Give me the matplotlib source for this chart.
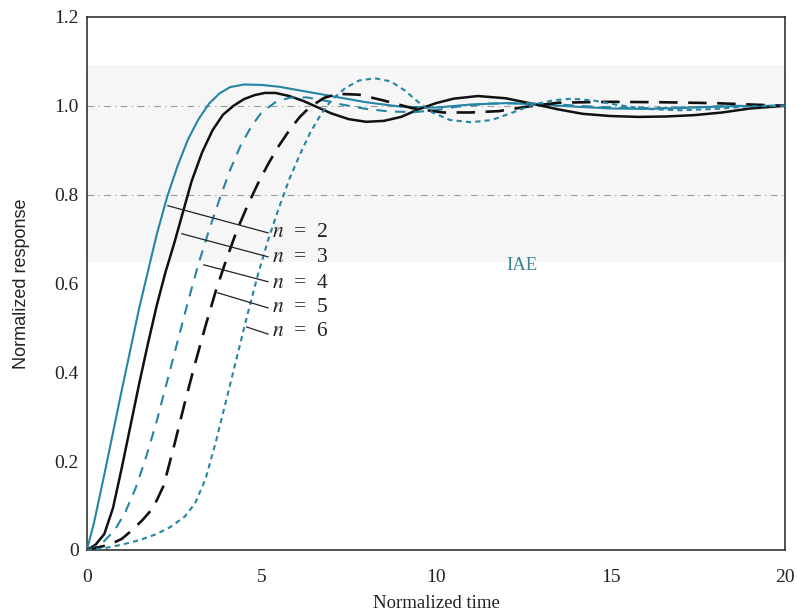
import matplotlib
matplotlib.use("Agg")
import matplotlib.pyplot as plt

plt.rcParams['font.family'] = ['Liberation Serif', 'DejaVu Serif']
plt.rcParams['mathtext.fontset'] = 'stix'

# values (time, normalized response)
t2 = [0, 0.2, 0.5, 1.0, 1.5, 2.0, 2.3, 2.6, 2.9, 3.2, 3.5, 3.8, 4.1, 4.5, 5.0, 5.5, 6.0,
      7.0, 8.0, 9.0, 10, 11, 12, 13, 14, 15, 16, 17, 18, 19, 20]
y2 = [0, 0.06, 0.17, 0.36, 0.545, 0.71, 0.795, 0.865, 0.925, 0.97, 1.005, 1.028, 1.042,
      1.048, 1.047, 1.043, 1.036, 1.022, 1.008, 0.998, 0.996, 1.003, 1.006, 1.003, 0.998,
      0.994, 0.993, 0.995, 0.998, 1.0, 1.0]

t3 = [0, 0.25, 0.5, 0.75, 1.0, 1.25, 1.5, 1.75, 2.0, 2.25, 2.5, 2.75, 3.0, 3.3, 3.6, 3.9,
      4.2, 4.5, 4.8, 5.1, 5.4, 5.8, 6.2, 6.6, 7.0, 7.5, 8.0, 8.5, 9.0, 9.5, 10, 10.5, 11.2,
      12, 12.8, 13.5, 14.2, 15, 15.8, 16.6, 17.4, 18.2, 19, 20]
y3 = [0, 0.012, 0.036, 0.095, 0.185, 0.28, 0.375, 0.465, 0.55, 0.625, 0.69, 0.76, 0.83,
      0.895, 0.945, 0.98, 1.0, 1.015, 1.024, 1.029, 1.029, 1.022, 1.011, 0.997, 0.983, 0.970,
      0.964, 0.966, 0.975, 0.992, 1.006, 1.016, 1.022, 1.017, 1.004, 0.992, 0.982, 0.977,
      0.975, 0.976, 0.979, 0.985, 0.994, 1.0]

t4 = [0, 0.4, 0.8, 1.1, 1.4, 1.7, 2.0, 2.3, 2.6, 2.9, 3.2, 3.5, 3.8, 4.1, 4.4, 4.7, 5.0,
      5.4, 5.8, 6.3, 6.8, 7.3, 8.0, 8.7, 9.4, 10.0, 10.6, 11.5, 12.5, 13.5, 14.5, 15.5, 16.5,
      17.5, 18.5, 20]
y4 = [0, 0.012, 0.045, 0.085, 0.14, 0.21, 0.29, 0.38, 0.47, 0.56, 0.645, 0.72, 0.79, 0.855,
      0.91, 0.952, 0.985, 1.008, 1.018, 1.019, 1.012, 1.003, 0.993, 0.987, 0.986, 0.99, 0.998,
      1.005, 1.006, 1.003, 0.998, 0.995, 0.995, 0.997, 1.0, 1.0]

t5 = [0, 0.65, 1.0, 1.3, 1.6, 1.9, 2.2, 2.5, 2.8, 3.1, 3.4, 3.7, 4.0, 4.3, 4.6, 4.9, 5.2,
      5.5, 5.8, 6.1, 6.4, 6.8, 7.2, 7.8, 8.5, 9.3, 10.2, 11.0, 11.8, 12.6, 13.5, 15.0, 16.5,
      18.0, 19.0, 20]
y5 = [0, 0.012, 0.025, 0.045, 0.068, 0.095, 0.145, 0.235, 0.33, 0.42, 0.505, 0.585, 0.655,
      0.72, 0.775, 0.825, 0.87, 0.91, 0.945, 0.975, 0.998, 1.018, 1.027, 1.025, 1.012, 0.995,
      0.985, 0.985, 0.988, 0.998, 1.007, 1.009, 1.008, 1.006, 1.003, 1.0]

t6 = [0, 0.5, 1.0, 1.5, 2.0, 2.4, 2.8, 3.1, 3.4, 3.7, 4.0, 4.3, 4.6, 4.9, 5.2, 5.5, 5.8,
      6.1, 6.4, 6.7, 7.0, 7.4, 7.8, 8.25, 8.7, 9.1, 9.5, 9.9, 10.4, 11.0, 11.6, 12.2, 12.8,
      13.4, 13.9, 14.5, 15.2, 16.0, 17.0, 18.0, 19.0, 20.0]
y6 = [0, 0.004, 0.012, 0.022, 0.036, 0.052, 0.075, 0.105, 0.16, 0.245, 0.34, 0.435, 0.53,
      0.62, 0.7, 0.77, 0.835, 0.89, 0.94, 0.98, 1.012, 1.04, 1.057, 1.062, 1.055, 1.035,
      1.008, 0.985, 0.968, 0.963, 0.968, 0.985, 1.003, 1.013, 1.016, 1.012, 1.002, 0.993,
      0.99, 0.993, 0.999, 1.0]

labels = ['$n$  =  2', '$n$  =  3', '$n$  =  4', '$n$  =  5', '$n$  =  6']
# leader lines: start on curve, end at label
lead_x0 = [2.32, 2.72, 3.35, 3.75, 4.58]
lead_y0 = [0.775, 0.712, 0.642, 0.579, 0.502]
lead_x1 = [5.19, 5.19, 5.19, 5.19, 5.19]
lead_y1 = [0.714, 0.66, 0.604, 0.545, 0.486]
label_y = [0.714, 0.658, 0.601, 0.547, 0.491]

teal = '#2585a4'
black = '#111111'

fig = plt.figure(figsize=(7.97, 6.15), dpi=100)
ax = fig.add_axes([0.109, 0.1057, 0.876, 0.8667])

ax.axhspan(0.649, 1.092, color='#f6f6f6', zorder=0, lw=0)
for gy in [1.0, 0.8]:
    ax.axhline(gy, color='#9a9a9a', lw=0.8, ls=(0, (6, 4, 1, 4)), zorder=1)

ax.plot(t2, y2, color=teal, lw=1.5, zorder=3)
ax.plot(t3, y3, color=black, lw=1.8, zorder=3)
ax.plot(t4, y4, color=teal, lw=1.5, ls=(0, (5, 4)), zorder=3)
ax.plot(t5, y5, color=black, lw=1.9, ls=(0, (7, 4)), zorder=3)
ax.plot(t6, y6, color=teal, lw=1.5, ls=(0, (2.5, 2)), zorder=3)

for i in range(5):
    ax.plot([lead_x0[i], lead_x1[i]], [lead_y0[i], lead_y1[i]], color='#222222', lw=0.9, zorder=4)
    ax.text(lead_x1[i] + 0.1, label_y[i], labels[i], fontsize=15.5, va='center', ha='left',
            color='#222222')

ax.text(12.45, 0.64, 'IAE', fontsize=13.5, color='#3a8596', ha='center', va='center')

ax.set_xlim(0, 20)
ax.set_ylim(0, 1.2)
ax.set_xticks([0, 5, 10, 15, 20])
ax.set_yticks([0, 0.2, 0.4, 0.6, 0.8, 1.0, 1.2])
ax.set_yticklabels(['0', '0.2', '0.4', '0.6', '0.8', '1.0', '1.2'])
ax.tick_params(length=0, labelsize=14, colors='#222222')
ax.tick_params(axis='y', pad=6)
ax.tick_params(axis='x', pad=14)
for s in ax.spines.values():
    s.set_color('#222222')
    s.set_linewidth(1.1)

ax.set_xlabel('Normalized time', fontsize=13.5, color='#222222', labelpad=6)
ax.set_ylabel('Normalized response', fontsize=13, family=['Liberation Sans', 'DejaVu Sans'],
              color='#222222', labelpad=17)

fig.savefig('out.png', dpi=100)
